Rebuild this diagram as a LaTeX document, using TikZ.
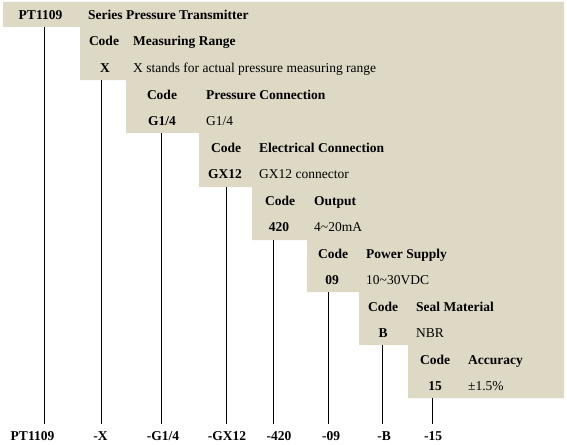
\documentclass[tikz,border=0pt]{standalone}
\usepackage{fontspec}
\setmainfont{Liberation Serif}
\definecolor{panel}{HTML}{DDD9C4}
\begin{document}
\begin{tikzpicture}[x=1pt,y=-1pt,
  every node/.style={inner sep=0pt},
  codetxt/.style={anchor=base, font=\fontsize{13.5}{16}\selectfont\bfseries},
  headtxt/.style={anchor=base west, font=\fontsize{13.5}{16}\selectfont\bfseries},
  desctxt/.style={anchor=base west, font=\fontsize{13.5}{16}\selectfont},
  conn/.style={draw=black, line width=1pt}]
\useasboundingbox (0,0) rectangle (567,444);
% staircase panel
\fill[panel] (3,2) -- (564,2) -- (564,398) -- (408,398) -- (408,345) -- (359,345)
  -- (359,292) -- (307,292) -- (307,240) -- (252,240) -- (252,187) -- (199,187)
  -- (199,133) -- (126,133) -- (126,80) -- (80,80) -- (80,27) -- (3,27) -- cycle;
% row 1
\node[codetxt] (c0) at (40.5,19.5) {PT1109};
\node[headtxt] (h0) at (88,19.5) {Series Pressure Transmitter};
% measuring range
\node[codetxt] (k1) at (104,46) {Code};
\node[headtxt] (h1) at (133,46) {Measuring Range};
\node[codetxt] (c1) at (105,72.5) {X};
\node[desctxt] (d1) at (133,72.5) {X stands for actual pressure measuring range};
% pressure connection
\node[codetxt] (k2) at (162,99) {Code};
\node[headtxt] (h2) at (206,99) {Pressure Connection};
\node[codetxt] (c2) at (162,125.5) {G1/4};
\node[desctxt] (d2) at (206,125.5) {G1/4};
% electrical connection
\node[codetxt] (k3) at (226,152) {Code};
\node[headtxt] (h3) at (259,152) {Electrical Connection};
\node[codetxt] (c3) at (225,178.5) {GX12};
\node[desctxt] (d3) at (259,178.5) {GX12 connector};
% output
\node[codetxt] (k4) at (280,205) {Code};
\node[headtxt] (h4) at (314,205) {Output};
\node[codetxt] (c4) at (279,231.5) {420};
\node[desctxt] (d4) at (314,231.5) {4\textasciitilde20mA};
% power supply
\node[codetxt] (k5) at (333,258) {Code};
\node[headtxt] (h5) at (366,258) {Power Supply};
\node[codetxt] (c5) at (332,284.5) {09};
\node[desctxt] (d5) at (366,284.5) {10\textasciitilde30VDC};
% seal material
\node[codetxt] (k6) at (383,311) {Code};
\node[headtxt] (h6) at (416,311) {Seal Material};
\node[codetxt] (c6) at (383,337.5) {B};
\node[desctxt] (d6) at (416,337.5) {NBR};
% accuracy
\node[codetxt] (k7) at (435,364) {Code};
\node[headtxt] (h7) at (468,364) {Accuracy};
\node[codetxt] (c7) at (435,390.5) {15};
\node[desctxt] (d7) at (468,390.5) {±1.5\%};
% bottom labels
\node[codetxt] (b0) at (32.5,440.5) {PT1109};
\node[codetxt] (b1) at (100.5,440.5) {-X};
\node[codetxt] (b2) at (163,440.5) {-G1/4};
\node[codetxt] (b3) at (227,440.5) {-GX12};
\node[codetxt] (b4) at (279,440.5) {-420};
\node[codetxt] (b5) at (331,440.5) {-09};
\node[codetxt] (b6) at (384,440.5) {-B};
\node[codetxt] (b7) at (433,440.5) {-15};
% connector ends
\coordinate (s0) at (44,27);    \coordinate (e0) at (44,424);
\coordinate (s1) at (101.5,80); \coordinate (e1) at (101.5,424);
\coordinate (s2) at (161,133);  \coordinate (e2) at (161,424);
\coordinate (s3) at (226,187);  \coordinate (e3) at (226,424);
\coordinate (s4) at (273,240);  \coordinate (e4) at (273,424);
\coordinate (s5) at (328.5,292);\coordinate (e5) at (328.5,424);
\coordinate (s6) at (382.5,345);\coordinate (e6) at (382.5,424);
\coordinate (s7) at (432.5,398);\coordinate (e7) at (432.5,424);
\foreach \i in {0,...,7} {\draw[conn] (s\i) -- (e\i);}
\end{tikzpicture}
\end{document}
